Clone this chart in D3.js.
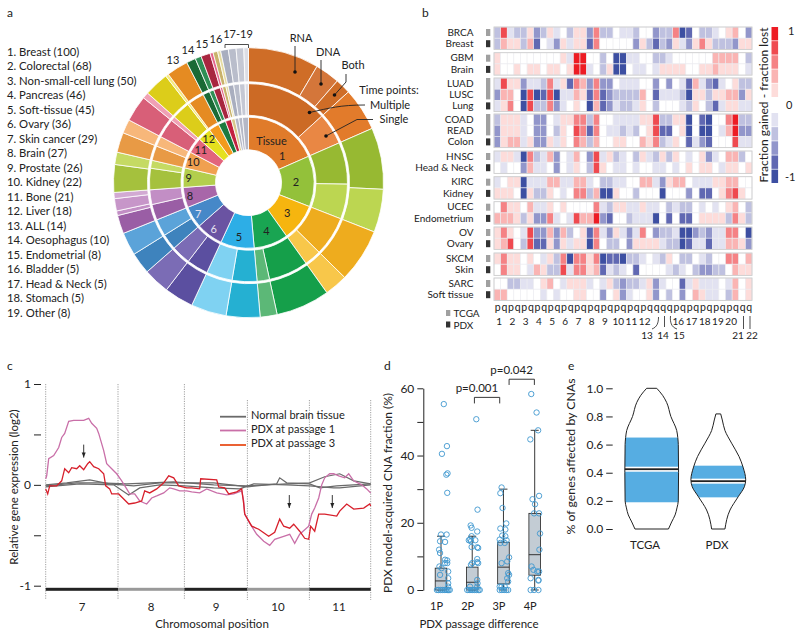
<!DOCTYPE html>
<html>
<head>
<meta charset="utf-8">
<script src="https://cdn.jsdelivr.net/npm/d3@7"></script>
<style>
body { margin: 0; background: #fff; }
text { font-family: Lato, "Open Sans", sans-serif; font-size: 11px; fill: #222; }
</style>
</head>
<body>
<svg id="fig" width="800" height="638"></svg>
<script>
// panel a: tissue counts and their splits
const tissueNames = ["Breast","Colorectal","Non-small-cell lung","Pancreas","Soft-tissue","Ovary","Skin cancer","Brain","Prostate","Kidney","Bone","Liver","ALL","Oesophagus","Endometrial","Bladder","Head & Neck","Stomach","Other"];
const tissueCounts = [100,68,50,46,45,36,29,27,26,22,21,18,14,10,8,5,5,5,8];
const tissueColors = ["#e07b2a","#93c13a","#f6b50f","#19a552","#2daee6","#6a53a2","#4688c8","#a866a9","#b3ce4d","#f0a050","#e2647c","#e5e01e","#f39a1d","#1c7a3f","#c3213f","#d8c98a","#b5b8c6","#b5b8c6","#b5b8c6"];
const midParts = [[72,28],[37,31],[35,15],[35,11],[22,23],[19,17],[14,15],[14,13],[19,7],[13,9],[17,4],[16,2],[14],[6,4],[6,2],[3,2],[5],[5],[5,3]];
const midColors = [["#cc6a25","#e98744"],["#97b932","#bcd651"],["#eeac1e","#f8c74a"],["#159f4a","#5cb877"],["#25b0d2","#7fd2f2"],["#5b4fa0","#7b6cb5"],["#3e83bd","#5ba3d9"],["#9a5ea5","#c28ec5"],["#a5c13d","#c5da63"],["#e89a45","#f7b77a"],["#d85f78","#f0a0b5"],["#dccd1a","#f5ea80"],["#e58b22"],["#1a6a35","#2f8f55"],["#a8263f","#e4668c"],["#c9b26a","#e5dba0"],["#a9aebf"],["#b9bdcb"],["#c5c8d4","#dcdde5"]];
const outerParts = [[46,16,10,28],[40,28],[35,15],[35,11],[22,23],[19,17],[14,15],[12,3,8,4],[18,8],[13,9],[17,4],[16,2],[14],[6,4],[6,2],[3,2],[5],[5],[5,3]];
const outerColors = [["#cf6d27","#d4763a","#cf6d27","#e27b2b"],["#97b932","#bcd651"],["#eeac1e","#f8c74a"],["#159f4a","#5cb877"],["#25b0d2","#7fd2f2"],["#5b4fa0","#7b6cb5"],["#3e83bd","#5ba3d9"],["#9a5ea5","#c28ec5","#c796c9","#d2aad3"],["#a5c13d","#c5da63"],["#e89a45","#f7b77a"],["#d85f78","#f0a0b5"],["#dccd1a","#f5ea80"],["#e58b22"],["#1a6a35","#2f8f55"],["#a8263f","#e4668c"],["#c9b26a","#e5dba0"],["#a9aebf"],["#b9bdcb"],["#c5c8d4","#dcdde5"]];
const ringLabelR = [43,47.5,49,52,55,58,59,60,60,59,58,59];

// panel b: fraction gained - fraction lost, in legend steps -5..5
const heatNames = ["BRCA","Breast","GBM","Brain","LUAD","LUSC","Lung","COAD","READ","Colon","HNSC","Head & Neck","KIRC","Kidney","UCEC","Endometrium","OV","Ovary","SKCM","Skin","SARC","Soft tissue"];
const heatSource = [0,1,0,1,0,0,1,0,0,1,0,1,0,1,0,1,0,1,0,1,0,1];
const heatGroups = [2,2,3,3,2,2,2,2,2,2];
const heatValues = [
[-2,4,-1,-2,-2,1,-3,-2,1,-1,0,-2,1,1,-3,3,-2,-2,0,-1,-1,-2,0,0,-3,-2,-2,3,-5,-4,0,-2,-2,-1,0,1,2,0,-3],
[-2,2,1,1,-2,2,-4,0,-1,-3,1,-1,1,1,-4,3,0,0,0,0,0,-3,1,-2,-4,-2,-3,1,-1,-3,1,3,1,-2,-2,-2,-3,1,1],
[1,0,0,0,0,0,0,0,0,0,1,-1,5,5,0,0,-2,0,-5,-5,-1,-1,0,0,-2,-2,-1,0,0,0,0,0,0,2,2,2,2,0,-2],
[1,0,0,1,0,1,1,0,1,1,0,1,5,5,-1,0,-2,1,-5,-5,0,-1,-1,0,-1,1,1,1,1,0,0,1,1,2,1,1,1,0,-1],
[-1,4,1,1,-3,-1,-1,-2,3,-1,1,-4,3,2,-3,3,-3,-3,0,-1,-1,-1,0,0,-3,0,-3,0,-1,-4,2,-1,-3,-4,-1,0,1,-2,-2],
[-3,2,2,0,-5,4,-5,-4,4,-5,-1,-1,2,1,-4,3,-4,-3,-2,-2,-2,-2,2,0,-4,-1,-1,-1,-2,-5,1,1,-2,1,1,2,2,-3,1],
[-1,1,3,0,-5,4,-2,-2,3,-3,-1,0,1,0,-5,2,-4,-3,-1,-2,-2,-1,1,0,-2,0,0,0,-1,-2,1,0,-2,-4,-1,1,1,-1,-1],
[-2,1,1,1,-1,0,-3,-3,0,-1,1,1,3,3,-2,3,0,0,-1,-1,-1,-1,1,1,4,-2,-2,1,1,-5,0,-4,-5,0,0,3,5,-2,-2],
[-3,1,1,1,-1,0,-3,-3,0,-2,1,0,4,3,-4,3,0,-1,-1,-2,-1,-2,0,1,4,-4,-4,0,1,-5,0,-5,-5,0,-1,2,5,-3,-3],
[-3,1,2,2,-1,1,-3,-3,1,-1,1,0,3,2,-2,2,0,0,1,1,0,0,2,1,3,-2,-1,1,0,-4,-1,-3,-4,0,0,0,4,-1,-1],
[-1,1,1,-1,-5,3,-2,-1,2,-3,0,-1,2,0,-3,4,-1,1,-2,-1,0,-2,1,-1,-2,1,-2,1,0,-1,0,1,-3,-1,0,2,2,-2,0],
[0,-1,0,0,-3,2,-1,-1,0,-3,0,-1,1,0,-2,4,1,0,-1,-1,0,-1,0,0,-1,-1,0,-1,0,1,0,1,1,0,-1,1,1,0,1],
[-1,0,1,1,-5,-1,-1,-1,2,2,-1,-1,2,2,-1,0,-2,-2,-1,-1,0,0,2,2,-1,-3,1,2,2,0,-1,-1,-1,1,1,2,2,0,0],
[1,1,1,0,-5,1,-2,-2,1,0,-1,0,3,3,-2,2,-5,-5,1,0,0,-2,0,0,0,-5,0,0,0,-3,0,-4,-4,0,1,3,4,1,0],
[0,3,1,1,0,2,-1,-1,1,0,1,0,0,0,0,3,-1,-2,1,1,-1,-1,1,-1,-1,0,-2,-1,-2,-2,0,-1,0,-1,0,1,2,0,-2],
[2,2,2,1,-2,1,-3,-3,3,-1,0,-1,4,2,2,5,-3,-4,0,0,-2,-1,-1,-1,-5,0,-4,0,-4,-4,0,1,1,1,1,-2,3,1,-2],
[1,3,1,0,-1,4,-3,-3,2,-3,2,-2,0,1,-4,3,-1,-3,1,-1,-3,-1,3,0,-3,-2,-2,-1,-5,-5,-3,-2,-3,-1,-1,3,3,0,-5],
[1,2,4,0,-2,4,-4,-4,1,-3,1,-1,1,1,-5,3,0,-2,-2,0,-3,1,1,1,1,-1,-2,-2,-5,-4,-1,-1,-4,-1,-1,2,2,1,-3],
[1,3,1,1,0,1,0,-1,1,-2,3,-5,3,3,1,3,-5,-4,-4,-5,-2,-2,-1,0,-1,-2,1,0,-2,-2,0,-1,-2,0,0,3,3,0,2],
[0,3,1,1,0,-1,2,1,-2,-2,4,-1,3,3,1,2,-4,-1,-2,-1,0,-4,0,0,0,0,-1,-2,-1,0,-2,-3,-3,-2,-2,0,2,1,1],
[0,0,-2,-2,-1,-1,0,1,2,0,-1,1,1,1,-1,0,-1,1,-2,-3,-2,-2,-1,1,-3,-1,0,0,-4,-1,1,-1,-1,-1,0,-1,2,0,1],
[2,2,0,0,0,0,0,-1,0,-1,0,0,1,1,0,0,-3,0,1,-3,-1,0,0,1,-3,0,-2,0,-3,0,2,1,-1,-1,0,-2,2,0,1]
];
const heatSteps = [5,4,3,2,1,-1,-2,-3,-4,-5];
const heatColors = ["#ed1c24","#ef4a50","#f58285","#fab4b3","#fddcda","#e2e2f1","#bfc1e0","#9296cb","#6068b2","#3d4fa2"];
const chromLabels = ["p","q","p","q","p","q","p","q","p","q","p","q","p","q","p","q","p","q","p","q","p","q","p","q","q","q","q","p","q","p","q","p","q","p","q","p","q","q","q"];
const chromNumbers = [1,2,3,4,5,6,7,8,9,10,11,12];
const chromNumbers2 = [16,17,18,19,20];

// panel c: relative expression read along the genome (position, log2)
const chromNames = [7,8,9,10,11];
const chromEdges = [0,72.3,138.7,201.7,263.7,325];
const pdxPassage1 = [[0,.06],[1,.09],[3,.26],[8,.29],[13,.37],[16,.47],[19,.51],[23,.63],[28,.64],[33,.64],[38,.64],[43,.66],[46,.61],[51,.56],[53,.51],[58,.34],[61,.21],[66,.16],[71,.11],[76,.04],[81,-.04],[84,-.09],[89,-.09],[94,-.16],[101,-.19],[106,-.13],[111,-.11],[118,-.08],[124,-.03],[128,-.04],[134,-.06],[141,-.06],[146,-.07],[154,-.08],[161,-.04],[171,-.08],[181,-.1],[188,-.09],[196,-.06],[198,-.16],[199,-.29],[204,-.38],[211,-.49],[218,-.56],[224,-.6],[229,-.54],[238,-.51],[244,-.49],[249,-.58],[254,-.49],[263,-.41],[266,-.29],[269,-.23],[273,-.13],[276,0],[279,.07],[284,.11],[288,.11],[293,.09],[299,.07],[303,.11],[308,.04],[316,0],[321,-.04],[325,-.08]];
const pdxPassage3 = [[0,-.04],[2,-.09],[4,-.01],[11,-.01],[16,.04],[19,.16],[23,.12],[26,.17],[31,.16],[34,.19],[38,.15],[42,.21],[44,.23],[48,.18],[53,.16],[58,.11],[60,-.01],[64,-.04],[66,-.09],[73,-.09],[78,-.14],[83,-.19],[89,-.18],[96,-.16],[99,-.06],[104,-.08],[111,-.04],[118,.02],[123,.09],[128,.07],[133,-.01],[141,-.03],[146,-.03],[154,-.04],[155,.06],[171,.05],[173,-.02],[179,-.03],[183,-.09],[191,-.07],[196,-.04],[198,-.19],[199,-.29],[206,-.41],[213,-.44],[223,-.51],[229,-.47],[234,-.34],[238,-.41],[244,-.43],[248,-.39],[254,-.46],[259,-.53],[263,-.54],[265,-.41],[269,-.46],[273,-.29],[279,-.29],[291,-.31],[294,-.26],[301,-.19],[308,-.24],[318,-.23],[324,-.19],[325,-.21]];
const normalBrain1 = [[0,0],[21,.02],[44,.05],[64,.01],[88,-.01],[114,.02],[139,.02],[168,.02],[194,-.01],[202,-.02],[231,.01],[234,.07],[241,.02],[264,.01],[274,-.03],[291,-.01],[325,.01]];
const normalBrain2 = [[0,-.02],[34,.01],[68,0],[83,-.1],[94,-.03],[114,0],[139,-.01],[168,-.03],[194,-.04],[208,.01],[241,0],[264,-.01],[288,-.03],[294,-.03],[325,0]];
const normalBrain3 = [[0,-.01],[31,.02],[54,.02],[81,.01],[128,.03],[168,0],[201,-.01],[241,.01],[264,.02],[279,.08],[294,.11],[308,.04],[325,.01]];
const arrowsC = [[38,.27],[243.6,-.23],[286.6,-.23]];

// panel d: CNA fraction by passage, [offset from category, value]
const passageNames = ["1P","2P","3P","4P"];
const boxStats = [[0,0,2.7,6.5,16],[0,0,2.3,6.8,16],[0,1.8,6.8,14.2,30],[0,4.4,10.5,22.8,47.5]];
const points1P = [[.09,55.3],[.19,42.8],[.03,40.5],[.21,34.7],[.17,34.3],[.2,28.9],[0,16.5],[.18,16.5],[-.03,14.5],[.13,14.3],[-.06,12],[-.03,11],[.13,9],[.2,8.8],[.13,8],[.2,8],[-.05,7],[.02,6.5],[.23,5.5],[-.03,4.5],[.23,3.5],[.23,2],[.23,1],[-.13,0],[-.08,0],[-.02,0],[.04,0],[.1,0],[.16,0],[.2,0],[.24,0],[.28,0]];
const points2P = [[.13,50.8],[.17,23.9],[-.05,19.2],[-.02,18.5],[.16,17.4],[-.02,16],[-.07,15],[-.11,14.8],[.1,14.8],[-.04,14.5],[-.02,12.8],[.16,12.7],[.19,12.5],[.16,9.2],[.16,8.3],[.19,8],[0,8],[-.04,7.5],[.16,3],[.17,2],[-.07,1],[.16,1],[-.16,0],[-.1,0],[-.04,0],[.02,0],[.08,0],[.14,0],[.2,0],[.24,0]];
const points3P = [[-.06,30.5],[-.1,28.8],[-.03,24.4],[.09,19.8],[-.1,18.3],[.06,18],[-.04,16.2],[.06,16],[-.12,15],[.1,14.8],[-.1,14],[.04,14],[.18,9.7],[.12,8.5],[-.06,8],[.15,5],[.18,4.5],[.12,3.5],[.15,2.5],[-.12,1],[-.06,1],[.04,1],[-.12,0],[-.05,0],[.02,0],[.09,0],[.15,0]];
const points4P = [[-.11,58.3],[.06,52.8],[.11,47.5],[-.14,44.8],[.14,28],[-.07,27],[.01,25.5],[-.02,22.8],[.14,22.8],[.17,16.8],[.15,12],[-.1,7],[-.04,6],[.08,5.5],[.14,5.5],[-.13,3.5],[.12,3],[.12,2.8],[-.02,0],[-.13,0],[.12,0]];
const brackets = [["p=0.001",2.07,2.88,57.3,55.5],["p=0.042",3.18,3.99,62.7,61]];

// panel e: violin profiles, [value, relative density]
const violinNames = ["TCGA","PDX"];
const violinTCGA = [[1,.19],[.95,.41],[.9,.56],[.8,.72],[.7,.94],[.65,.98],[.6,1],[.4,1.01],[.2,1],[.15,.95],[.1,.88],[.05,.75],[0,.63]];
const violinPDX = [[.818,.09],[.775,.15],[.7,.25],[.61,.5],[.515,.78],[.44,.93],[.35,1.03],[.3,.98],[.23,.75],[.135,.44],[0,.25]];
const violinBands = [[.19,.425,.65],[.225,.34,.45]];

var svg = d3.select("#fig");

function txt(x, y, s, anchor, size) {
  var t = svg.append("text").attr("x", x).attr("y", y).attr("dy", "0.35em").text(s);
  if (anchor) t.attr("text-anchor", anchor);
  if (size) t.style("font-size", size + "px");
  return t;
}
function vtxt(x, y, s) {
  return svg.append("text").attr("transform", "translate(" + x + "," + y + ") rotate(-90)")
    .attr("text-anchor", "middle").attr("dy", "0.35em").text(s);
}

txt(7, 13, "a", null, 12);
txt(422, 13, "b", null, 12);
txt(7, 366, "c", null, 12);
txt(384, 366, "d", null, 12);
txt(568, 366, "e", null, 12);

// ---------- a ----------
var total = d3.sum(tissueCounts);
var angle = d3.scaleLinear().domain([0, total]).range([0, 2 * Math.PI]);
var gA = svg.append("g").attr("transform", "translate(248.5,182.7)");
var arc = d3.arc();
var starts = d3.cumsum([0].concat(tissueCounts));

function ring(parts, colors, r0, r1) {
  parts.forEach(function (p, i) {
    var a = starts[i];
    p.forEach(function (v, j) {
      gA.append("path")
        .attr("d", arc({innerRadius: r0, outerRadius: r1, startAngle: angle(a), endAngle: angle(a + v)}))
        .attr("fill", colors[i][j])
        .attr("stroke", "#fff").attr("stroke-width", 0.8);
      a += v;
    });
  });
}
ring(tissueCounts.map(function (d) { return [d]; }), tissueColors.map(function (d) { return [d]; }), 33, 65.5);
ring(midParts, midColors, 67.5, 99);
ring(outerParts, outerColors, 101, 135);

var ringLabelAt = tissueCounts.map(function (d, i) { return i == 0 ? 77.7 : starts[i] + d / 2; });
ringLabelR.forEach(function (r, i) {
  var a = angle(ringLabelAt[i]);
  txt(248.5 + r * Math.sin(a), 182.7 - r * Math.cos(a), i + 1, "middle", 11)
    .style("fill", (i == 5 || i == 6) ? "#e4e0f0" : "#222");
});
txt(271.5, 141.5, "Tissue", "middle", 11);

tissueNames.forEach(function (d, i) {
  txt(7, 52 + i * 14.5, (i + 1) + ". " + d + " (" + tissueCounts[i] + ")").style("font-size", "11.3px");
});

var outerTags = [["13", 173, 60], ["14", 188, 50.5], ["15", 202, 44], ["16", 216, 39.5], ["17-19", 238, 34]];
outerTags.forEach(function (d) { txt(d[1], d[2], d[0], "middle"); });
svg.append("path").attr("d", "M225,48V44.5H248.5V48").attr("fill", "none").attr("stroke", "#222").attr("stroke-width", 0.8);

var callouts = [
  ["RNA", 301, 38.5, "M295,46V72"],
  ["DNA", 328, 52, "M321,60V84"],
  ["Both", 353, 65, "M346,74V82L334.5,95"],
  ["Multiple", 390, 105, "M365,105C340,105 330,108 309.5,112.5"],
  ["Single", 394, 119, "M373,119.5H357L326,136"]
];
callouts.forEach(function (d) {
  txt(d[1], d[2], d[0], "middle");
  svg.append("path").attr("d", d[3]).attr("fill", "none").attr("stroke", "#222").attr("stroke-width", 0.9);
});
[[295, 72], [321, 84], [334.5, 95], [309.5, 112.5], [326, 136]].forEach(function (d) {
  svg.append("circle").attr("cx", d[0]).attr("cy", d[1]).attr("r", 1.8).attr("fill", "#111");
});
txt(389, 90, "Time points:", "middle");

// ---------- b ----------
var col = d3.scaleBand().domain(d3.range(39)).range([494, 752]).paddingInner(0);
var heatColor = d3.scaleOrdinal().domain(heatSteps).range(heatColors).unknown("#fff");
var groupTops = [27, 52.7, 78, 114, 151, 176.7, 201.7, 227, 253, 278];
var rowH = 11.2;
var r = 0;
heatGroups.forEach(function (n, g) {
  var top = groupTops[g], gh = n * rowH;
  for (var k = 0; k < n; k++, r++) {
    var y0 = top + k * rowH;
    heatValues[r].forEach(function (v, c) {
      svg.append("rect").attr("x", col(c)).attr("y", y0).attr("width", col.bandwidth()).attr("height", rowH)
        .attr("fill", heatColor(v)).attr("stroke", "#ececf0").attr("stroke-width", 0.6);
    });
    txt(473.5, y0 + rowH / 2 - 0.5, heatNames[r], "end", 10);
    if (heatSource[r] == 1) {
      svg.append("rect").attr("x", 486).attr("y", y0 + 2).attr("width", 4.3).attr("height", 7).attr("fill", "#333");
    } else if (k == 0) {
      var span = n == 3 ? 2 * rowH - 1 : 7;
      svg.append("rect").attr("x", 486).attr("y", n == 3 ? y0 : y0 + 2).attr("width", 4.3).attr("height", span).attr("fill", "#a0a0a0");
    }
  }
  svg.append("rect").attr("x", 494).attr("y", top).attr("width", 258).attr("height", gh)
    .attr("fill", "none").attr("stroke", "#cdcdcd").attr("stroke-width", 0.9);
});
chromLabels.forEach(function (d, c) {
  txt(col(c) + col.bandwidth() / 2 + 0.5, 307.5, d, "middle", 10.5);
});
chromNumbers.forEach(function (d, i) {
  txt(col(i * 2) + col.bandwidth() - 1.5, 321, d, "middle", 10);
});
chromNumbers2.forEach(function (d, i) {
  txt(col(27 + i * 2) + col.bandwidth() - 1, 321, d, "middle", 10);
});
[["13", 647], ["14", 663], ["15", 679], ["21", 738], ["22", 752]].forEach(function (d) {
  txt(d[1], 335.5, d[0], "middle", 10);
});
svg.append("path")
  .attr("d", "M658.5,317C658.5,323 657,327 652,329M664.5,316V327M670.5,316C670,322 671,327 677,329M743.5,316V329M750,316V329")
  .attr("fill", "none").attr("stroke", "#222").attr("stroke-width", 0.8);
svg.append("rect").attr("x", 446).attr("y", 310).attr("width", 4.3).attr("height", 6).attr("fill", "#a0a0a0");
svg.append("rect").attr("x", 446).attr("y", 321.5).attr("width", 4.3).attr("height", 6).attr("fill", "#333");
txt(453.5, 313, "TCGA", null, 10);
txt(453.5, 325, "PDX", null, 10);

var legendY = d3.scaleBand().domain(d3.range(5)).range([27, 97]).paddingInner(0.05);
var legendY2 = d3.scaleBand().domain(d3.range(5)).range([113, 183]).paddingInner(0.05);
heatSteps.forEach(function (s, i) {
  var sc = i < 5 ? legendY : legendY2;
  svg.append("rect").attr("x", 771.5).attr("y", sc(i % 5)).attr("width", 6.6).attr("height", sc.bandwidth()).attr("fill", heatColor(s));
});
txt(788, 31, "1");
txt(786, 105, "0");
txt(785, 177, "-1");
vtxt(763.5, 105, "Fraction gained - fraction lost").style("font-size", "12px");

// ---------- c ----------
var xC = d3.scaleLinear().domain([0, 325]).range([45.7, 370.7]);
var yC = d3.scaleLinear().domain([-1, 1]).range([585.7, 384]);
var lineC = d3.line().x(function (d) { return xC(d[0]); }).y(function (d) { return yC(d[1]); });

svg.append("g").attr("transform", "translate(41,0)")
  .call(d3.axisLeft(yC).tickValues([-1, -.5, 0, .5, 1]).tickSize(7).tickFormat(function (d) { return Math.abs(d) == .5 ? "" : d; }))
  .call(function (g) {
    g.select(".domain").remove();
    g.selectAll("line").attr("stroke", "#222").attr("stroke-width", 1);
    g.selectAll("text").style("font-size", "12px");
  });
chromEdges.forEach(function (e, i) {
  svg.append("line").attr("x1", xC(e)).attr("x2", xC(e)).attr("y1", i < 3 ? 384 : 400).attr("y2", 600)
    .attr("stroke", "#888").attr("stroke-width", 0.8).attr("stroke-dasharray", "1.2,1.2");
});
chromNames.forEach(function (d, i) {
  svg.append("rect").attr("x", xC(chromEdges[i])).attr("y", 587.8).attr("width", xC(chromEdges[i + 1]) - xC(chromEdges[i])).attr("height", 3)
    .attr("fill", i % 2 ? "#999" : "#222");
});
[normalBrain1, normalBrain2, normalBrain3].forEach(function (d) {
  svg.append("path").attr("d", lineC(d)).attr("fill", "none").attr("stroke", "#6a6a6a").attr("stroke-width", 1.2);
});
svg.append("path").attr("d", lineC(pdxPassage1)).attr("fill", "none").attr("stroke", "#c96fa8").attr("stroke-width", 1.3);
svg.append("path").attr("d", lineC(pdxPassage3)).attr("fill", "none").attr("stroke", "#d71f2b").attr("stroke-width", 1.3);

arrowsC.forEach(function (d) {
  var x = xC(d[0]), y = yC(d[1]);
  svg.append("path").attr("d", "M" + x + "," + (y - 13) + "V" + y).attr("stroke", "#222").attr("stroke-width", 0.9);
  svg.append("path").attr("d", "M" + (x - 2) + "," + (y - 5) + "L" + x + "," + y + "L" + (x + 2) + "," + (y - 5) + "Z").attr("fill", "#222");
});
[["Normal brain tissue", "#6a6a6a", 416.7], ["PDX at passage 1", "#c96fa8", 430.5], ["PDX at passage 3", "#e8501e", 445]].forEach(function (d) {
  svg.append("line").attr("x1", 220).attr("x2", 246).attr("y1", d[2]).attr("y2", d[2]).attr("stroke", d[1]).attr("stroke-width", 1.8);
  txt(251, d[2] - 1.5, d[0]);
});
var chromLabelX = [82, 151, 216, 278, 339];
chromNames.forEach(function (d, i) { txt(chromLabelX[i], 607, d, "middle", 11.5); });
txt(212, 624, "Chromosomal position", "middle", 11.5);
vtxt(14, 487, "Relative gene expression (log2)").style("font-size", "11.5px");

// ---------- d ----------
var xD = d3.scaleLinear().domain([1, 4]).range([441, 534.7]);
var yD = d3.scaleLinear().domain([0, 60]).range([590, 388.3]);
svg.append("g").attr("transform", "translate(423.3,0)")
  .call(d3.axisLeft(yD).tickValues(d3.range(0, 61, 10)).tickSize(6).tickSizeOuter(0).tickFormat(function (d) { return d % 20 ? "" : d; }))
  .call(function (g) {
    g.selectAll("path,line").attr("stroke", "#222");
    g.selectAll("text").style("font-size", "12px");
  });
boxStats.forEach(function (b, i) {
  var x = xD(i + 1);
  svg.append("line").attr("x1", x).attr("x2", x).attr("y1", yD(b[0])).attr("y2", yD(b[4])).attr("stroke", "#222").attr("stroke-width", 0.9);
  [b[0], b[4]].forEach(function (w) {
    svg.append("line").attr("x1", x - 4).attr("x2", x + 4).attr("y1", yD(w)).attr("y2", yD(w)).attr("stroke", "#222").attr("stroke-width", 0.9);
  });
  svg.append("rect").attr("x", x - 5.8).attr("width", 11.6).attr("y", yD(b[3])).attr("height", yD(b[1]) - yD(b[3]))
    .attr("fill", "#c3ccd4").attr("stroke", "#222").attr("stroke-width", 0.8);
  svg.append("line").attr("x1", x - 5.8).attr("x2", x + 5.8).attr("y1", yD(b[2])).attr("y2", yD(b[2])).attr("stroke", "#222").attr("stroke-width", 0.9);
  txt(x - 4.5, 606.5, passageNames[i], "middle");
});
[points1P, points2P, points3P, points4P].forEach(function (pts, i) {
  svg.append("g").selectAll("circle").data(pts).enter().append("circle")
    .attr("cx", function (d) { return xD(i + 1 + d[0]); })
    .attr("cy", function (d) { return yD(d[1]); })
    .attr("r", 2.7).attr("fill", "none").attr("stroke", "#3f97cf").attr("stroke-width", 0.9);
});
brackets.forEach(function (b) {
  svg.append("path").attr("d", "M" + xD(b[1]) + "," + yD(b[4]) + "V" + yD(b[3]) + "H" + xD(b[2]) + "V" + yD(b[4]))
    .attr("fill", "none").attr("stroke", "#222").attr("stroke-width", 0.9);
  txt(xD(b[1]) + 2.5, yD(b[3]) - 9, b[0], "middle", 11.5);
});
txt(479, 624, "PDX passage difference", "middle", 11.5);
vtxt(388, 493, "PDX model-acquired CNA fraction (%)").style("font-size", "12px");

// ---------- e ----------
var xE = d3.scalePoint().domain(violinNames).range([651.7, 718.3]);
var yE = d3.scaleLinear().domain([0, 1]).range([529, 388.3]);
var densE = d3.scaleLinear().domain([0, 1]).range([0, 26.6]);
svg.append("g").attr("transform", "translate(612.7,0)")
  .call(d3.axisLeft(yE).tickValues([0, .2, .4, .6, .8, 1]).tickSize(6.5).tickFormat(d3.format(".1f")))
  .call(function (g) {
    g.select(".domain").remove();
    g.selectAll("line").attr("stroke", "#222");
    g.selectAll("text").style("font-size", "12px");
  });
[violinTCGA, violinPDX].forEach(function (v, i) {
  var cx = xE(violinNames[i]), band = violinBands[i];
  var area = d3.area()
    .y(function (d) { return yE(d[0]); })
    .x0(function (d) { return cx - densE(d[1]); })
    .x1(function (d) { return cx + densE(d[1]); })
    .curve(d3.curveMonotoneY);
  svg.append("clipPath").attr("id", "v" + i).append("path").attr("d", area(v));
  var g = svg.append("g").attr("clip-path", "url(#v" + i + ")");
  g.append("rect").attr("x", cx - 40).attr("width", 80).attr("y", yE(band[2])).attr("height", yE(band[0]) - yE(band[2])).attr("fill", "#56ade2");
  g.append("rect").attr("x", cx - 40).attr("width", 80).attr("y", yE(band[1]) - 2.5).attr("height", 5).attr("fill", "#fff");
  g.append("rect").attr("x", cx - 40).attr("width", 80).attr("y", yE(band[1]) - 0.9).attr("height", 1.8).attr("fill", "#222");
  svg.append("path").attr("d", area(v)).attr("fill", "none").attr("stroke", "#222").attr("stroke-width", 1);
});
txt(645, 545, "TCGA", "middle", 11.5);
txt(717, 545, "PDX", "middle", 11.5);
vtxt(571, 456.5, "% of genes affected by CNAs").style("font-size", "12.3px");
</script>
</body>
</html>
